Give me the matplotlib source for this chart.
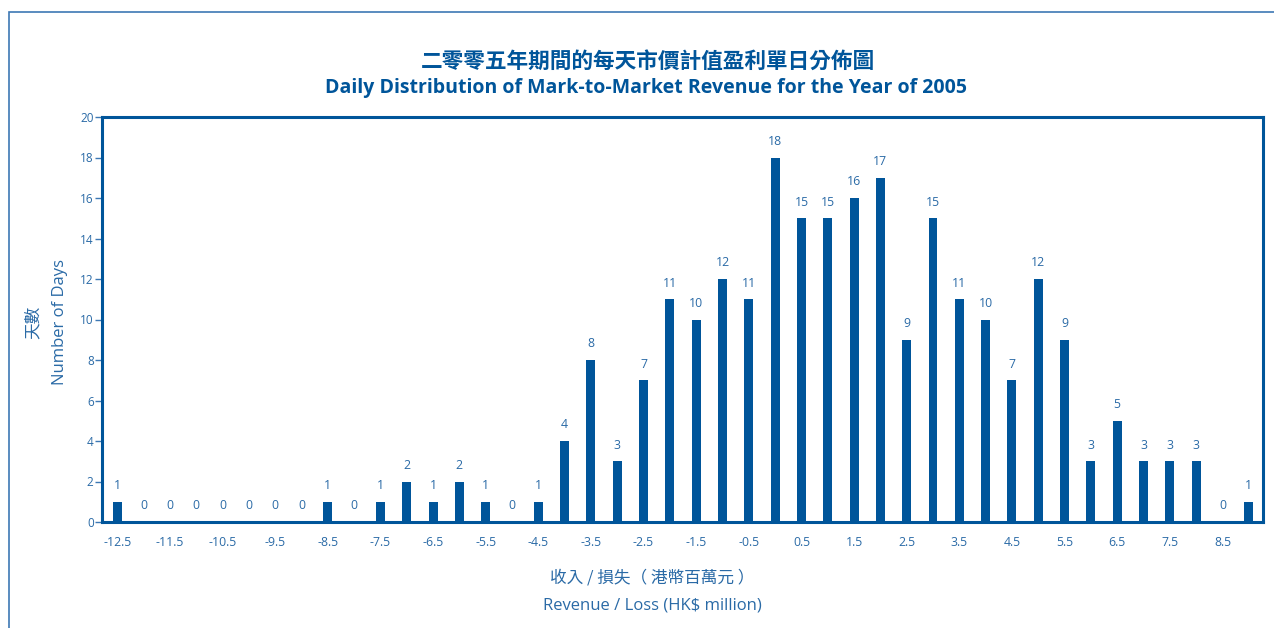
import numpy as np
import matplotlib.pyplot as plt
from matplotlib.patches import Rectangle

plt.rcParams['font.family'] = ['Open Sans', 'Noto Sans CJK TC', 'DejaVu Sans']

# revenue bins (HK$ million) and number of days
revenue = [-12.5, -12, -11.5, -11, -10.5, -10, -9.5, -9, -8.5, -8, -7.5, -7, -6.5, -6,
           -5.5, -5, -4.5, -4, -3.5, -3, -2.5, -2, -1.5, -1, -0.5, 0, 0.5, 1, 1.5, 2,
           2.5, 3, 3.5, 4, 4.5, 5, 5.5, 6, 6.5, 7, 7.5, 8, 8.5, 9]
days = [1, 0, 0, 0, 0, 0, 0, 0, 1, 0, 1, 2, 1, 2,
        1, 0, 1, 4, 8, 3, 7, 11, 10, 12, 11, 18, 15, 15, 16, 17,
        9, 15, 11, 10, 7, 12, 9, 3, 5, 3, 3, 3, 0, 1]
tick_labels = [-12.5, -11.5, -10.5, -9.5, -8.5, -7.5, -6.5, -5.5, -4.5, -3.5, -2.5,
               -1.5, -0.5, 0.5, 1.5, 2.5, 3.5, 4.5, 5.5, 6.5, 7.5, 8.5]

bar_color = '#00559a'
text_color = '#2a6aa6'

fig = plt.figure(figsize=(12.74, 6.28), dpi=100)

# outer frame, runs off the right and bottom edges
fig.patches.append(Rectangle((9 / 1274, -0.1), 1.2, 0.1 + 1 - 12 / 628,
                             transform=fig.transFigure, fill=False,
                             edgecolor='#3d78b4', linewidth=1.2))

ax = fig.add_axes([102 / 1274, 1 - 522 / 628, (1263 - 102) / 1274, (522 - 117) / 628])
ax.bar(revenue, days, width=0.17, color=bar_color)

for x, d in zip(revenue, days):
    ax.annotate(str(d), (x, d), xytext=(0, 7), textcoords='offset points',
                ha='center', va='bottom', fontsize=8.8, color=text_color)

ax.set_xlim(-12.79, 9.27)
ax.set_ylim(0, 20)
ax.set_yticks(range(0, 21, 2))
ax.set_xticks(tick_labels)
ax.set_xticklabels([f'{t:g}' for t in tick_labels])

for s in ax.spines.values():
    s.set_color(bar_color)
    s.set_linewidth(2.2)

ax.tick_params(axis='y', direction='out', length=5, width=1, color='#3d78b4',
               labelcolor=text_color, labelsize=8.5, pad=1)
ax.tick_params(axis='x', length=0, labelcolor=text_color, labelsize=8.8, pad=10)

# titles
fig.text(648 / 1274, 1 - 61 / 628, '二零零五年期間的每天市價計值盈利單日分佈圖',
         ha='center', va='center', fontsize=15.6, fontweight='bold', color=bar_color,
         family=['Noto Sans CJK TC', 'DejaVu Sans'])
fig.text(646 / 1274, 1 - 88 / 628, 'Daily Distribution of Mark-to-Market Revenue for the Year of 2005',
         ha='center', va='center', fontsize=14, fontweight='bold', color=bar_color)

# axis labels
fig.text(33 / 1274, 1 - 322 / 628, '天數', rotation=90, ha='center', va='center',
         fontsize=12, color=text_color, family=['Noto Sans CJK TC', 'DejaVu Sans'])
fig.text(60 / 1274, 1 - 322 / 628, 'Number of Days', rotation=90, ha='center', va='center',
         fontsize=12, color=text_color)
fig.text(652 / 1274, 1 - 578 / 628, '收入 / 損失（ 港幣百萬元 ）', ha='center', va='center',
         fontsize=12, color=text_color, family=['Noto Sans CJK TC', 'DejaVu Sans'])
fig.text(652 / 1274, 1 - 605 / 628, 'Revenue / Loss (HK$ million)', ha='center', va='center',
         fontsize=12, color=text_color)

fig.savefig('out.png', dpi=100)
